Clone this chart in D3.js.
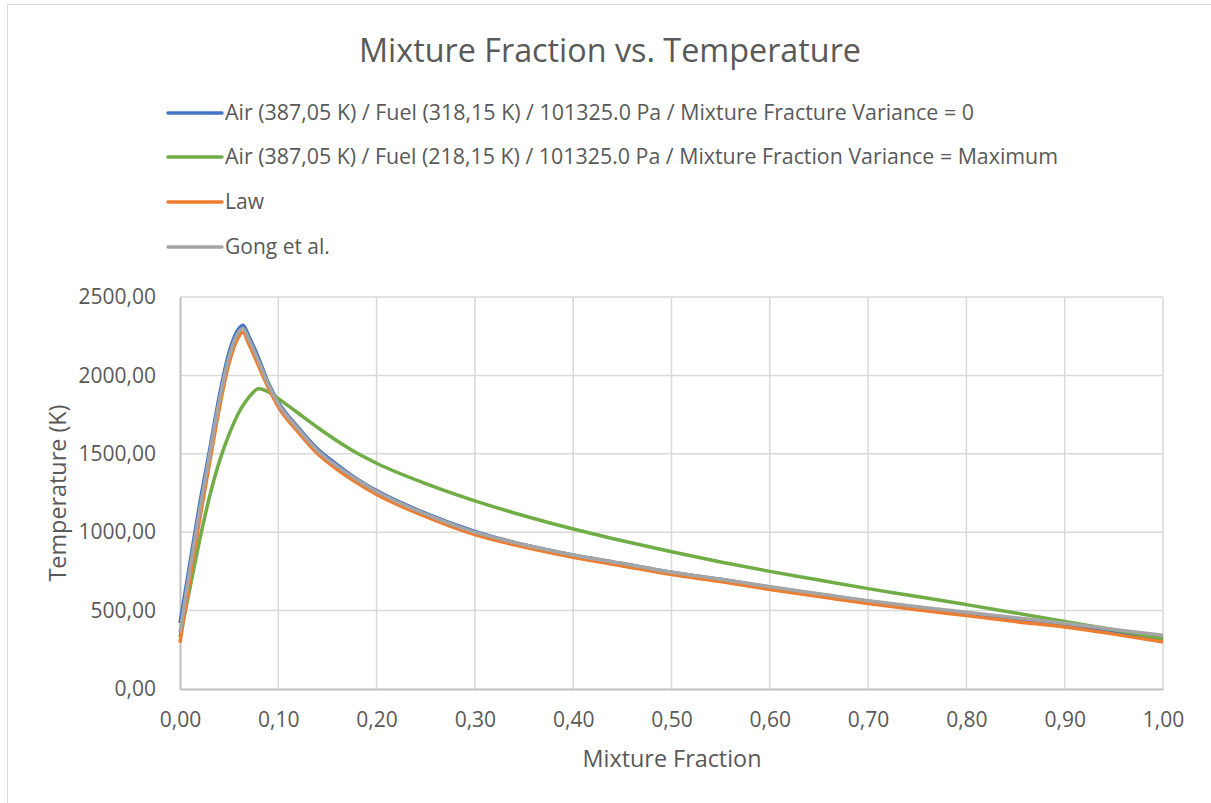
<!DOCTYPE html>
<html>
<head>
<meta charset="utf-8">
<script src="https://cdn.jsdelivr.net/npm/d3@7"></script>
<style>
  body { margin: 0; background: #fff; }
  text { font-family: "Open Sans", sans-serif; fill: #595959; }
</style>
</head>
<body>
<div id="vis"></div>
<script>
const width = 1211, height = 803;

// Mixture fraction sample points
const mixFraction = [0, 0.01, 0.02, 0.03, 0.04, 0.05, 0.06, 0.064, 0.07, 0.08, 0.09, 0.10,
  0.12, 0.14, 0.16, 0.18, 0.20, 0.25, 0.30, 0.35, 0.40, 0.45, 0.50, 0.55, 0.60,
  0.65, 0.70, 0.75, 0.80, 0.85, 0.90, 0.95, 1.00];

// Temperature (K) for each series
const tempVar0 = [420, 800, 1180, 1520, 1870, 2150, 2300, 2320, 2250, 2110, 1950, 1830,
  1670, 1530, 1430, 1340, 1265, 1120, 1005, 920, 855, 800, 745, 700, 650,
  605, 560, 520, 480, 440, 405, 360, 310];
const tempVarMax = [330, 640, 950, 1225, 1450, 1625, 1765, 1808, 1860, 1915, 1895, 1852,
  1760, 1668, 1582, 1505, 1440, 1310, 1200, 1105, 1020, 945, 875, 810, 750,
  695, 640, 590, 538, 485, 430, 378, 322];
const tempLaw = [295, 700, 1080, 1440, 1790, 2080, 2250, 2275, 2200, 2060, 1920, 1800,
  1640, 1500, 1400, 1315, 1240, 1100, 985, 905, 840, 785, 730, 685, 635,
  590, 545, 505, 468, 430, 395, 350, 300];
const tempGong = [360, 760, 1140, 1490, 1840, 2120, 2280, 2300, 2230, 2090, 1940, 1820,
  1660, 1520, 1420, 1335, 1260, 1115, 1000, 920, 855, 800, 745, 700, 652,
  608, 563, 525, 490, 455, 420, 380, 343];

const seriesNames = [
  "Air (387,05 K) / Fuel (318,15 K) / 101325.0 Pa / Mixture Fracture Variance = 0",
  "Air (387,05 K) / Fuel (218,15 K) / 101325.0 Pa / Mixture Fraction Variance = Maximum",
  "Law",
  "Gong et al."
];
const seriesColors = ["#4472C4", "#70AD47", "#ED7D31", "#A5A5A5"];
const seriesValues = [tempVar0, tempVarMax, tempLaw, tempGong];

const xTicks = d3.range(0, 1.0001, 0.1);
const yTicks = [0, 500, 1000, 1500, 2000, 2500];

const svg = d3.select("#vis").append("svg")
  .attr("width", width)
  .attr("height", height);

// chart frame (right and bottom edges fall off the picture)
svg.append("rect")
  .attr("x", 7.5).attr("y", 4.5)
  .attr("width", 1220).attr("height", 820)
  .attr("fill", "none").attr("stroke", "#d9d9d9");

const x = d3.scaleLinear().domain([0, 1]).range([180, 1163]);
const y = d3.scaleLinear().domain([0, 2500]).range([689, 297]);

// title
svg.append("text")
  .attr("x", 610).attr("y", 62)
  .attr("text-anchor", "middle")
  .style("font-size", "32px")
  .attr("textLength", 502)
  .attr("lengthAdjust", "spacingAndGlyphs")
  .text("Mixture Fraction vs. Temperature");

// gridlines
svg.append("g").selectAll("line").data(xTicks.slice(1))
  .join("line")
  .attr("x1", d => x(d)).attr("x2", d => x(d))
  .attr("y1", y(2500)).attr("y2", y(0))
  .attr("stroke", "#d9d9d9").attr("stroke-width", 1.5);
svg.append("g").selectAll("line").data(yTicks.slice(1))
  .join("line")
  .attr("x1", x(0)).attr("x2", x(1))
  .attr("y1", d => y(d)).attr("y2", d => y(d))
  .attr("stroke", "#d9d9d9").attr("stroke-width", 1.5);

// axes
const fmt = d => d3.format(".2f")(d).replace(".", ",");
const xAxis = d3.axisBottom(x).tickValues(xTicks).tickFormat(fmt).tickSize(0).tickPadding(23);
const yAxis = d3.axisLeft(y).tickValues(yTicks).tickFormat(fmt).tickSize(0).tickPadding(24);

const gx = svg.append("g").attr("transform", `translate(0,${y(0)})`).call(xAxis);
const gy = svg.append("g").attr("transform", `translate(${x(0)},0)`).call(yAxis);
[gx, gy].forEach(g => {
  g.select(".domain").attr("stroke", "#bfbfbf").attr("stroke-width", 2);
  g.selectAll("text").style("font-size", "21px").attr("fill", "#595959");
});

// axis titles
svg.append("text")
  .attr("x", 672).attr("y", 767)
  .attr("text-anchor", "middle")
  .style("font-size", "23px")
  .attr("textLength", 179)
  .attr("lengthAdjust", "spacingAndGlyphs")
  .text("Mixture Fraction");
svg.append("text")
  .attr("transform", "translate(66,493) rotate(-90)")
  .attr("text-anchor", "middle")
  .style("font-size", "23px")
  .attr("textLength", 177)
  .attr("lengthAdjust", "spacingAndGlyphs")
  .text("Temperature (K)");

// lines
const line = d3.line()
  .x((d, i) => x(mixFraction[i]))
  .y(d => y(d))
  .curve(d3.curveMonotoneX);

seriesValues.forEach((vals, i) => {
  svg.append("path")
    .datum(vals)
    .attr("fill", "none")
    .attr("stroke", seriesColors[i])
    .attr("stroke-width", 3.5)
    .attr("stroke-linejoin", "round")
    .attr("d", line);
});

// legend
const legendY = [113, 157, 202, 247];
const legendLen = [749, 833, null, null];
const legend = svg.append("g");
seriesNames.forEach((name, i) => {
  legend.append("line")
    .attr("x1", 168).attr("x2", 222)
    .attr("y1", legendY[i]).attr("y2", legendY[i])
    .attr("stroke", seriesColors[i]).attr("stroke-width", 3.5)
    .attr("stroke-linecap", "round");
  const t = legend.append("text")
    .attr("x", 225).attr("y", legendY[i] + 7)
    .style("font-size", "21px")
    .text(name);
  if (legendLen[i]) t.attr("textLength", legendLen[i]).attr("lengthAdjust", "spacingAndGlyphs");
});
</script>
</body>
</html>
